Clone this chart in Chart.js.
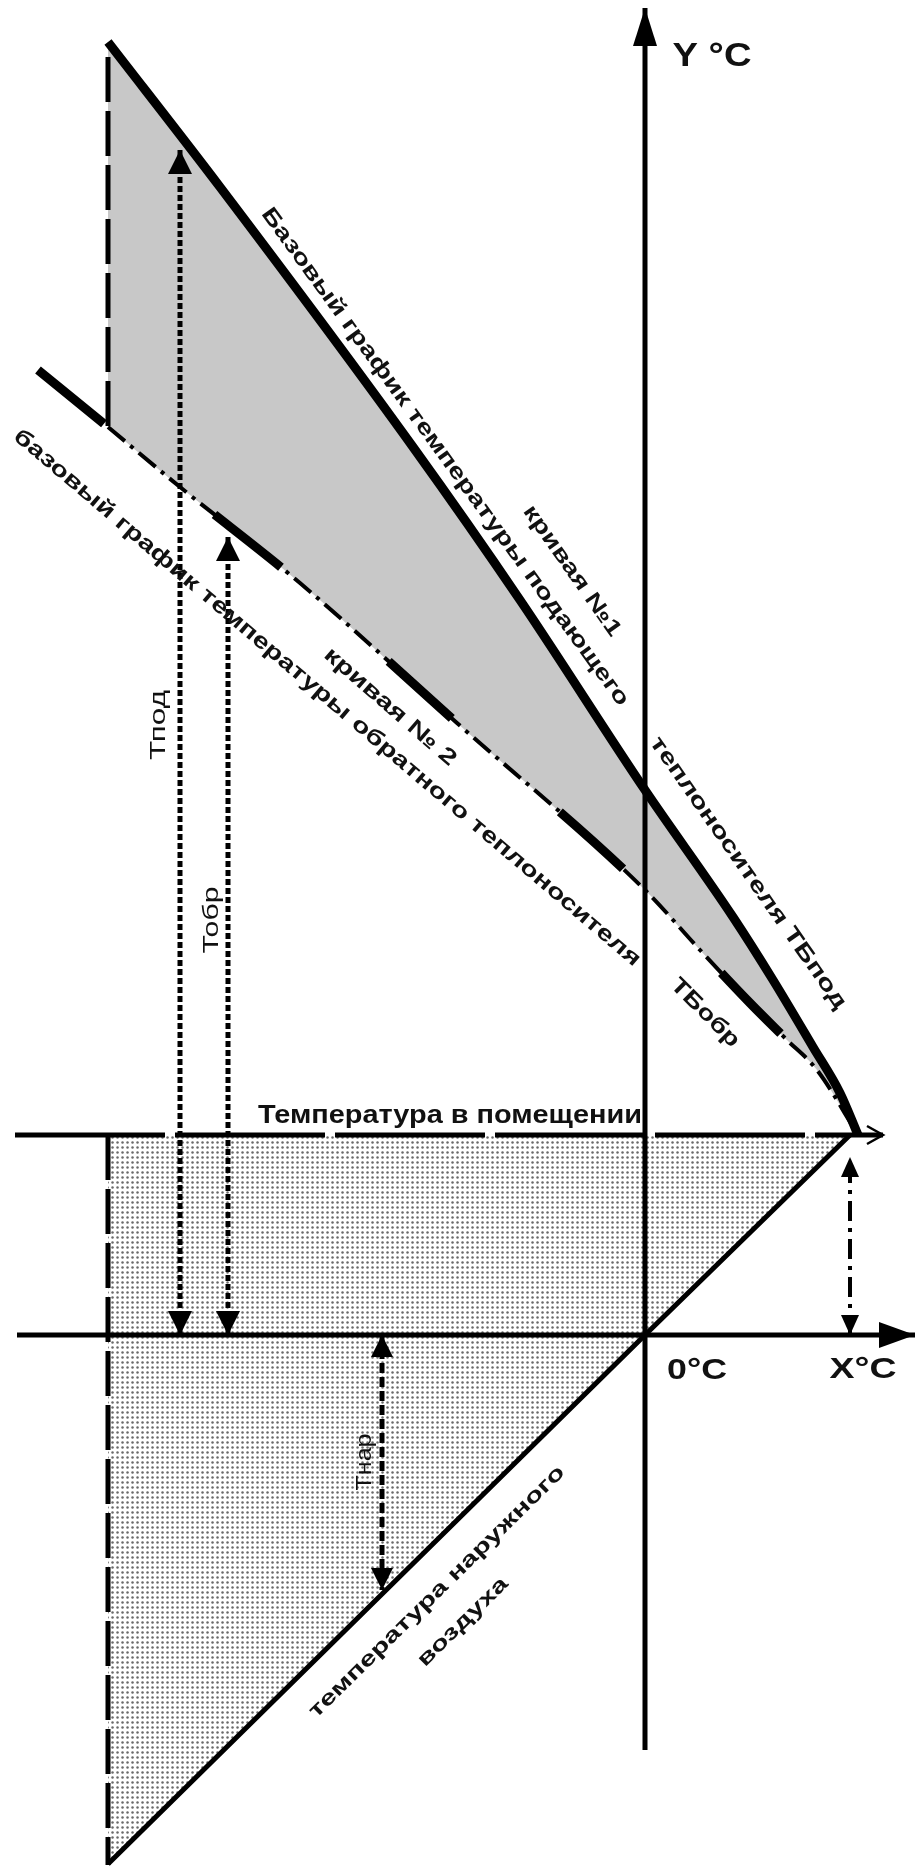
<!DOCTYPE html>
<html lang="ru">
<head>
<meta charset="utf-8">
<title>Температурный график</title>
<script src="https://cdn.jsdelivr.net/npm/chart.js@4.4.1/dist/chart.umd.min.js"></script>
<style>
  html, body { margin: 0; padding: 0; background: #fff; }
  canvas { display: block; }
</style>
</head>
<body>
<canvas id="grafico" width="920" height="1868"></canvas>
<script>
// Ось X - температура наружного воздуха, ось Y - температура, °C
// Базовый график подающего теплоносителя (кривая №1)
const supplyT = [-53.7, -42.5, -23.2, -12.5, 0, 8.8, 12.8, 16.8, 19.5, 21.3];
const supplyV = [129.3, 114.8, 88.8, 73.5, 54.5, 41.8, 35.5, 28.8, 24.2, 20];

// Базовый график обратного теплоносителя (кривая №2)
const returnT = [-53.7, -46.5, -34.5, -18.8, 0, 5.5, 10.5, 14.2, 17.2, 21.3];
const returnV = [90.8, 84.8, 75.2, 61.2, 44.5, 38.5, 33.2, 29.5, 26.5, 20];
const returnStub = [-60.7, 96.5];

// Температура наружного воздуха
const outdoorT = [-53.7, 0, 20.5];
const outdoorV = [-52.9, 0, 20];

// Температура в помещении
const roomTemp = 20;
const roomLineT = [-63, 23.8];

// Расчётная температура наружного воздуха (левая граница)
const designT = -53.7;
const designUpper = [127.8, 90.8];
const designLower = [20, -53];

// Оси
const xAxisT = [-62.8, 27];
const yAxisV = [-41.5, 132.7];

// Размерные стрелки: Тпод, Тобр, Тнар, X°C
const tpod = { t: -46.5, v: [0, 118.5] };
const tobr = { t: -41.7, v: [0, 79.8] };
const tnar = { t: -26.3, v: [0, -25.5] };
const xArrow = { t: 20.5, v: [0, 17.8] };

const pts = (xs, ys) => xs.map((x, i) => ({ x: x, y: ys[i] }));
const vert = (t, vs) => vs.map(v => ({ x: t, y: v }));

const canvas = document.getElementById('grafico');
const ctx0 = canvas.getContext('2d');

// точечная штриховка нижней области
function dotPattern() {
    const c = document.createElement('canvas');
    c.width = 5; c.height = 5;
    const g = c.getContext('2d');
    g.fillStyle = '#ffffff';
    g.fillRect(0, 0, 5, 5);
    g.fillStyle = '#6a6a6a';
    g.beginPath();
    g.arc(2.5, 2.5, 1.25, 0, Math.PI * 2);
    g.fill();
    return ctx0.createPattern(c, 'repeat');
}

// подписи
const F = '"Liberation Sans", Arial, sans-serif';
const labels = [
    { text: 'Базовый график температуры подающего', t: -20, v: 87.8, angle: 54, width: 610, font: 'bold 22px ' + F },
    { text: 'кривая №1', t: -7.3, v: 76.4, angle: 55, width: 155, font: 'bold 22px ' + F },
    { text: 'теплоносителя ТБпод', t: 10.3, v: 46.2, angle: 55, width: 327, font: 'bold 22px ' + F },
    { text: 'базовый график температуры обратного теплоносителя', t: -31.8, v: 63.7, angle: 40.4, width: 816, font: 'bold 22px ' + F },
    { text: 'кривая № 2', t: -25.5, v: 62.8, angle: 41, width: 168, font: 'bold 22px ' + F },
    { text: 'ТБобр', t: 6, v: 32.2, angle: 45, width: 88, font: 'bold 22px ' + F },
    { text: 'Температура в помещении', t: -19.5, v: 21.9, angle: 0, width: 384, font: 'bold 25px ' + F },
    { text: 'Тпод', t: -48.6, v: 61, angle: -90, width: 70, font: '22px ' + F },
    { text: 'Тобр', t: -43.3, v: 41.5, angle: -90, width: 67, font: '22px ' + F },
    { text: 'Тнар', t: -28, v: -12.7, angle: -90, width: 57, font: '22px ' + F },
    { text: 'температура наружного', t: -20.8, v: -25.7, angle: -44.5, width: 350, font: 'bold 21px ' + F },
    { text: 'воздуха', t: -18.2, v: -28.7, angle: -44.5, width: 118, font: 'bold 21px ' + F },
    { text: 'Y °C', t: 6.7, v: 127.8, angle: 0, width: 79, font: 'bold 34px ' + F },
    { text: '0°C', t: 5.2, v: -3.6, angle: 0, width: 60, font: 'bold 30px ' + F },
    { text: 'X°C', t: 21.8, v: -3.5, angle: 0, width: 67, font: 'bold 30px ' + F }
];

function head(ctx, tip, from, len, half, open) {
    const a = Math.atan2(tip.y - from.y, tip.x - from.x);
    const bx = tip.x - Math.cos(a) * len, by = tip.y - Math.sin(a) * len;
    const nx = -Math.sin(a) * half, ny = Math.cos(a) * half;
    ctx.beginPath();
    ctx.moveTo(bx + nx, by + ny);
    ctx.lineTo(tip.x, tip.y);
    ctx.lineTo(bx - nx, by - ny);
    if (open) {
        ctx.lineWidth = 2.5;
        ctx.stroke();
    } else {
        ctx.closePath();
        ctx.fill();
    }
}

const arrowPlugin = {
    id: 'arrowPlugin',
    afterDatasetsDraw(chart) {
        const ctx = chart.ctx;
        ctx.save();
        ctx.fillStyle = '#000';
        ctx.strokeStyle = '#000';
        ctx.setLineDash([]);
        chart.data.datasets.forEach((ds, i) => {
            if (!ds.arrow) return;
            const p = chart.getDatasetMeta(i).data;
            const n = p.length;
            if (ds.arrow.end) head(ctx, p[n - 1], p[n - 2], ds.arrow.len, ds.arrow.half, ds.arrow.open);
            if (ds.arrow.start) head(ctx, p[0], p[1], ds.arrow.len, ds.arrow.half, ds.arrow.open);
        });
        ctx.restore();
    }
};

const labelPlugin = {
    id: 'labelPlugin',
    afterDatasetsDraw(chart) {
        const ctx = chart.ctx;
        const xs = chart.scales.x, ys = chart.scales.y;
        labels.forEach(l => {
            ctx.save();
            ctx.translate(xs.getPixelForValue(l.t), ys.getPixelForValue(l.v));
            ctx.rotate(l.angle * Math.PI / 180);
            ctx.font = l.font;
            ctx.fillStyle = '#111';
            ctx.textAlign = 'center';
            ctx.textBaseline = 'middle';
            const w = ctx.measureText(l.text).width;
            ctx.scale(l.width / w, 1);
            ctx.fillText(l.text, 0, 0);
            ctx.restore();
        });
    }
};

const chart = new Chart(canvas, {
    type: 'line',
    data: {
        datasets: [
            // область между температурой в помещении и наружной температурой
            {
                data: pts([designT, outdoorT[outdoorT.length - 1]], [roomTemp, roomTemp]),
                borderColor: 'rgba(0,0,0,0)',
                borderWidth: 1,
                backgroundColor: dotPattern(),
                fill: 1
            },
            {
                data: pts(outdoorT, outdoorV),
                borderColor: '#000',
                borderWidth: 5,
                fill: false
            },
            // кривая №1 с заливкой до кривой №2
            {
                data: pts(supplyT, supplyV),
                borderColor: '#000',
                borderWidth: 9,
                backgroundColor: '#c8c8c8',
                fill: 3,
                cubicInterpolationMode: 'monotone'
            },
            {
                data: pts(returnT, returnV),
                borderColor: '#000',
                borderWidth: 4,
                borderDash: [22, 7, 4, 7],
                fill: false,
                cubicInterpolationMode: 'monotone'
            },
            {
                data: [{ x: returnStub[0], y: returnStub[1] }].concat(pts(returnT, returnV)),
                borderColor: '#000',
                borderWidth: 9,
                borderDash: [85, 143],
                fill: false,
                cubicInterpolationMode: 'monotone'
            },
            {
                data: pts(roomLineT, [roomTemp, roomTemp]),
                borderColor: '#000',
                borderWidth: 5,
                borderDash: [150, 10],
                fill: false,
                arrow: { end: true, len: 16, half: 9, open: true }
            },
            {
                data: vert(designT, designUpper).concat([{ x: designT, y: null }], vert(designT, designLower)),
                borderColor: '#000',
                borderWidth: 5,
                borderDash: [45, 9],
                fill: false
            },
            // оси
            {
                data: vert(0, yAxisV),
                borderColor: '#000',
                borderWidth: 5,
                fill: false,
                arrow: { end: true, len: 38, half: 12 }
            },
            {
                data: pts(xAxisT, [0, 0]),
                borderColor: '#000',
                borderWidth: 5,
                fill: false,
                arrow: { end: true, len: 36, half: 13 }
            },
            // размерные линии
            {
                data: vert(tpod.t, tpod.v),
                borderColor: '#000',
                borderWidth: 5,
                borderDash: [6, 3],
                fill: false,
                arrow: { start: true, end: true, len: 24, half: 12 }
            },
            {
                data: vert(tobr.t, tobr.v),
                borderColor: '#000',
                borderWidth: 5,
                borderDash: [6, 3],
                fill: false,
                arrow: { start: true, end: true, len: 24, half: 12 }
            },
            {
                data: vert(tnar.t, tnar.v),
                borderColor: '#000',
                borderWidth: 5,
                borderDash: [10, 4],
                fill: false,
                arrow: { start: true, end: true, len: 22, half: 11 }
            },
            {
                data: vert(xArrow.t, xArrow.v),
                borderColor: '#000',
                borderWidth: 4,
                borderDash: [20, 7, 4, 7],
                fill: false,
                arrow: { start: true, end: true, len: 20, half: 9 }
            }
        ]
    },
    options: {
        responsive: false,
        devicePixelRatio: 1,
        animation: false,
        events: [],
        layout: { padding: 0 },
        elements: {
            point: { radius: 0, hoverRadius: 0 },
            line: { tension: 0 }
        },
        scales: {
            x: { type: 'linear', min: -64.5, max: 27.5, display: false },
            y: { type: 'linear', min: -53.3, max: 133.5, display: false }
        },
        plugins: {
            legend: { display: false },
            tooltip: { enabled: false },
            filler: { drawTime: 'beforeDatasetsDraw', propagate: false }
        }
    },
    plugins: [arrowPlugin, labelPlugin]
});
</script>
</body>
</html>
